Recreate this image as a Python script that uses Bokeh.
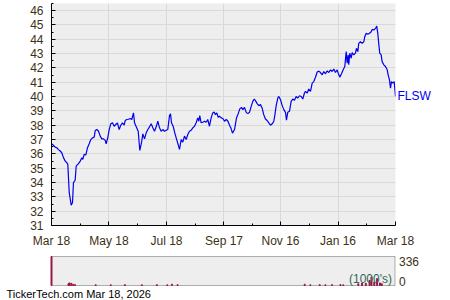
from bokeh.plotting import figure
from bokeh.models import Range1d, FixedTicker, Label, LinearAxis, BoxAnnotation
from bokeh.embed import file_html
from bokeh.resources import INLINE

# ---- data ----
days = [0, 2.1, 3.9, 5.6, 7.4, 9.2, 10.9, 12.7, 14.5, 16.2, 17.3, 18.8, 20.2, 20.9, 22.3, 23.3,
        25.1, 26.2, 28.6, 30.5, 32.2, 33.2, 34.7, 36.4, 38.2, 40.0, 41.7, 43.5, 45.3, 46.4, 48.1,
        49.9, 51.7, 53.4, 55.2, 57.0, 58.0, 59.7, 61.2, 62.9, 64.7, 66.5, 68.2, 70.0, 71.8, 73.5,
        75.3, 77.1, 78.2, 79.9, 81.7, 83.5, 85.2, 87.0, 88.1, 89.9, 92.0, 93.7, 95.5, 96.9, 98.7,
        100.5, 102.2, 104.0, 105.8, 107.5, 109.3, 111.1, 112.8, 114.6, 116.4, 118.1, 119.9, 121.7,
        123.4, 125.2, 126.3, 127.3, 129.1, 130.8, 132.3, 134.0, 135.8, 137.6, 139.3, 141.1, 142.9,
        144.6, 146.4, 148.2, 149.9, 151.7, 153.5, 155.2, 156.3, 157.3, 158.8, 160.5, 162.3, 164.1,
        165.8, 167.6, 169.4, 171.1, 172.6, 174.0, 175.4, 176.9, 178.2, 180.1, 181.8, 183.6, 185.4,
        187.1, 188.9, 190.4, 192.0, 194.2, 196.3, 198.1, 199.8, 201.6, 203.0, 204.8, 206.6, 208.3,
        210.1, 211.9, 213.6, 215.1, 216.4, 218.2, 220.0, 221.7, 223.5, 225.2, 227.0, 228.8, 230.6,
        232.4, 234.2, 235.9, 236.9, 238.4, 240.1, 241.2, 243.0, 244.8, 246.5, 248.3, 249.3, 250.7,
        252.5, 254.3, 256.0, 257.8, 259.6, 261.3, 263.1, 264.9, 266.6, 268.4, 269.5, 271.3, 273.0,
        274.8, 276.6, 278.3, 280.1, 281.9, 283.6, 285.4, 287.2, 288.9, 290.7, 292.5, 294.2, 296.0,
        297.8, 299.5, 301.3, 303.1, 304.8, 305.9, 307.7, 309.5, 311.2, 312.7, 313.7, 314.8, 315.4,
        316.5, 318.0, 319.0, 320.7, 322.5, 323.6, 325.0, 326.0, 327.8, 329.6, 331.4, 332.4, 333.9,
        335.6, 337.4, 339.2, 340.3, 342.0, 343.8, 345.1, 346.2, 347.2, 348.3, 349.8, 350.8, 352.6,
        354.4, 356.2, 357.2, 358.6, 359.7, 360.7, 362.1, 363.6, 365.0]
prices = [36.71, 36.6, 36.47, 36.43, 36.3, 36.2, 36.08, 35.74, 35.5, 35.39, 35.27, 33.3, 32.72,
          32.42, 32.6, 34.0, 34.16, 35.15, 35.32, 35.5, 35.73, 35.62, 35.97, 35.92, 36.43, 36.71,
          37.0, 37.12, 37.17, 37.63, 37.7, 37.58, 37.24, 37.05, 37.05, 36.94, 36.71, 37.12, 37.7,
          38.1, 38.17, 37.93, 38.05, 38.17, 37.7, 38.0, 38.17, 38.0, 38.33, 38.4, 38.42, 38.47,
          38.4, 38.86, 38.17, 37.9, 37.58, 36.24, 36.78, 37.4, 37.05, 37.47, 37.7, 37.89, 38.1,
          37.82, 37.58, 37.89, 38.28, 37.82, 37.58, 37.7, 37.58, 37.65, 37.7, 38.67, 38.79, 38.17,
          37.93, 37.47, 37.12, 36.73, 36.31, 37.0, 36.82, 37.24, 37.0, 37.35, 37.58, 37.65, 37.82,
          37.93, 38.17, 38.51, 38.28, 38.67, 38.17, 38.21, 38.28, 38.21, 38.4, 37.93, 38.51, 38.86,
          38.93, 38.74, 38.86, 38.56, 38.63, 38.51, 38.47, 38.28, 38.4, 38.3, 38.0, 37.8, 37.45,
          37.7, 38.51, 38.81, 39.14, 39.25, 39.09, 39.25, 38.9, 38.81, 38.9, 39.32, 39.67, 39.83,
          39.72, 39.51, 39.37, 39.44, 39.2, 38.74, 38.44, 38.33, 38.17, 38.0, 38.1, 38.28, 38.67,
          39.37, 39.9, 40.01, 39.78, 39.37, 39.09, 38.9, 38.35, 38.9, 38.97, 39.67, 39.83, 39.74,
          40.01, 39.9, 40.06, 40.01, 39.83, 40.25, 40.36, 40.25, 40.53, 40.36, 40.94, 41.05, 41.35,
          41.72, 41.78, 41.68, 41.52, 41.75, 41.59, 41.8, 41.68, 41.87, 41.75, 41.92, 41.68, 41.87,
          41.52, 41.36, 41.59, 41.87, 42.1, 43.14, 42.33, 42.91, 42.22, 43.03, 42.68, 43.08, 42.91,
          43.03, 43.37, 43.14, 43.72, 43.83, 43.72, 43.83, 44.18, 44.42, 44.35, 44.42, 44.53,
          44.69, 44.65, 44.76, 44.92, 44.42, 43.72, 43.03, 42.91, 42.44, 42.22, 42.1, 41.87, 41.52,
          41.17, 40.59, 41.05, 40.94, 41.05, 40.01]

tick_days = [0, 61, 122, 183, 243, 304, 365]
tick_labels = ["Mar 18", "May 18", "Jul 18", "Sep 17", "Nov 16", "Jan 16", "Mar 18"]
minor_days = [30.5, 91.5, 152.5, 213, 273.5, 334.5]
y_ticks = list(range(31, 47))
y_minor = [t + 0.5 for t in range(31, 47)]

vol_days = [0, 18, 19, 21, 23, 25, 47, 63, 78, 96, 112, 123, 128, 134,
            269, 275, 285, 291, 298, 307, 310, 326, 330, 334, 338, 340, 343, 346, 349, 351]
vol_vals = [336, 20, 30, 25, 15, 10, 8, 8, 10, 8, 10, 8, 15, 10,
            15, 8, 10, 8, 10, 12, 8, 20, 30, 25, 60, 100, 40, 80, 30, 20]
vol_max = 336
symbol = "FLSW"
footer = "TickerTech.com  Mar 18, 2026"

FONT = "Liberation Sans"
LBL = "#3d3015"
DAY_SPAN = 365

# ---- price panel ----
p = figure(width=450, height=250, x_range=Range1d(0, DAY_SPAN), y_range=Range1d(31, 46.5),
           output_backend="svg", toolbar_location=None,
           min_border_left=51, min_border_right=55, min_border_top=3, min_border_bottom=23)
p.background_fill_color = "#eeeeee"
p.border_fill_color = "white"
p.outline_line_color = None

p.line(days, prices, line_color="#0000ee", line_width=1.2)

p.xaxis.ticker = FixedTicker(ticks=tick_days, minor_ticks=minor_days)
p.xaxis.major_label_overrides = {d: l for d, l in zip(tick_days, tick_labels)}
p.yaxis.ticker = FixedTicker(ticks=y_ticks, minor_ticks=y_minor)
for ax in (p.xaxis[0], p.yaxis[0]):
    ax.axis_line_color = "black"
    ax.major_tick_line_color = "black"
    ax.minor_tick_line_color = "black"
    ax.major_tick_in = 4
    ax.major_tick_out = 0
    ax.minor_tick_in = 2
    ax.minor_tick_out = 0
    ax.major_label_text_font = FONT
    ax.major_label_text_font_size = "12px"
    ax.major_label_text_color = LBL
    ax.major_label_standoff = 8
p.xgrid.grid_line_color = "#d9d9d9"
p.ygrid.grid_line_color = "#d9d9d9"

# symbol label at the last price, as a right-side axis label
sym_axis = LinearAxis(ticker=FixedTicker(ticks=[prices[-1]]),
                      major_label_overrides={prices[-1]: symbol})
sym_axis.axis_line_color = None
sym_axis.major_tick_line_color = None
sym_axis.minor_tick_line_color = None
sym_axis.major_tick_in = 0
sym_axis.major_tick_out = 0
sym_axis.major_label_standoff = 2
sym_axis.major_label_text_font = FONT
sym_axis.major_label_text_font_size = "12px"
sym_axis.major_label_text_color = "#0000ee"
p.add_layout(sym_axis, "right")

# ---- volume panel (own root; frame covers the whole canvas; box drawn from data limits) ----
W2, H2 = 450, 50
pad_l, pad_r, pad_t, pad_b = 51, 55.5, 6, 15
xs = DAY_SPAN / (W2 - pad_l - pad_r)
ys = vol_max / (H2 - pad_t - pad_b)
p2 = figure(width=W2, height=H2,
            x_range=Range1d(-pad_l * xs, DAY_SPAN + pad_r * xs),
            y_range=Range1d(-pad_b * ys, vol_max + pad_t * ys),
            output_backend="svg", toolbar_location=None,
            x_axis_location=None, y_axis_location=None,
            min_border=0, min_border_left=0, min_border_right=0,
            min_border_top=0, min_border_bottom=0)
p2.background_fill_color = "white"
p2.border_fill_color = "white"
p2.outline_line_color = None
p2.xgrid.visible = False
p2.ygrid.visible = False
p2.add_layout(BoxAnnotation(left=0, right=DAY_SPAN, bottom=0, top=vol_max,
                            fill_color="#eeeeee", fill_alpha=1.0,
                            line_color="black", line_width=1, level="underlay"))
p2.vbar(x=vol_days, top=vol_vals, width=1.0, bottom=0, fill_color="#99103f",
        line_color="#99103f")

p2.add_layout(Label(x=DAY_SPAN, y=vol_max, text=str(vol_max), x_offset=4, text_baseline="top",
                    text_font=FONT, text_font_size="12px", text_color=LBL))
p2.add_layout(Label(x=DAY_SPAN, y=0, text="0", x_offset=4, text_baseline="bottom",
                    text_font=FONT, text_font_size="12px", text_color=LBL))
p2.add_layout(Label(x=DAY_SPAN, y=0, text="(1000's)", x_offset=-3, text_align="right",
                    text_baseline="bottom", text_font=FONT, text_font_size="12px",
                    text_color="#336655"))
p2.add_layout(Label(x=0, y=0, text=footer, x_offset=-45, y_offset=-8, text_baseline="middle",
                    text_font=FONT, text_font_size="11px", text_color="black"))

open("out.html", "w").write(file_html([p, p2], INLINE))
